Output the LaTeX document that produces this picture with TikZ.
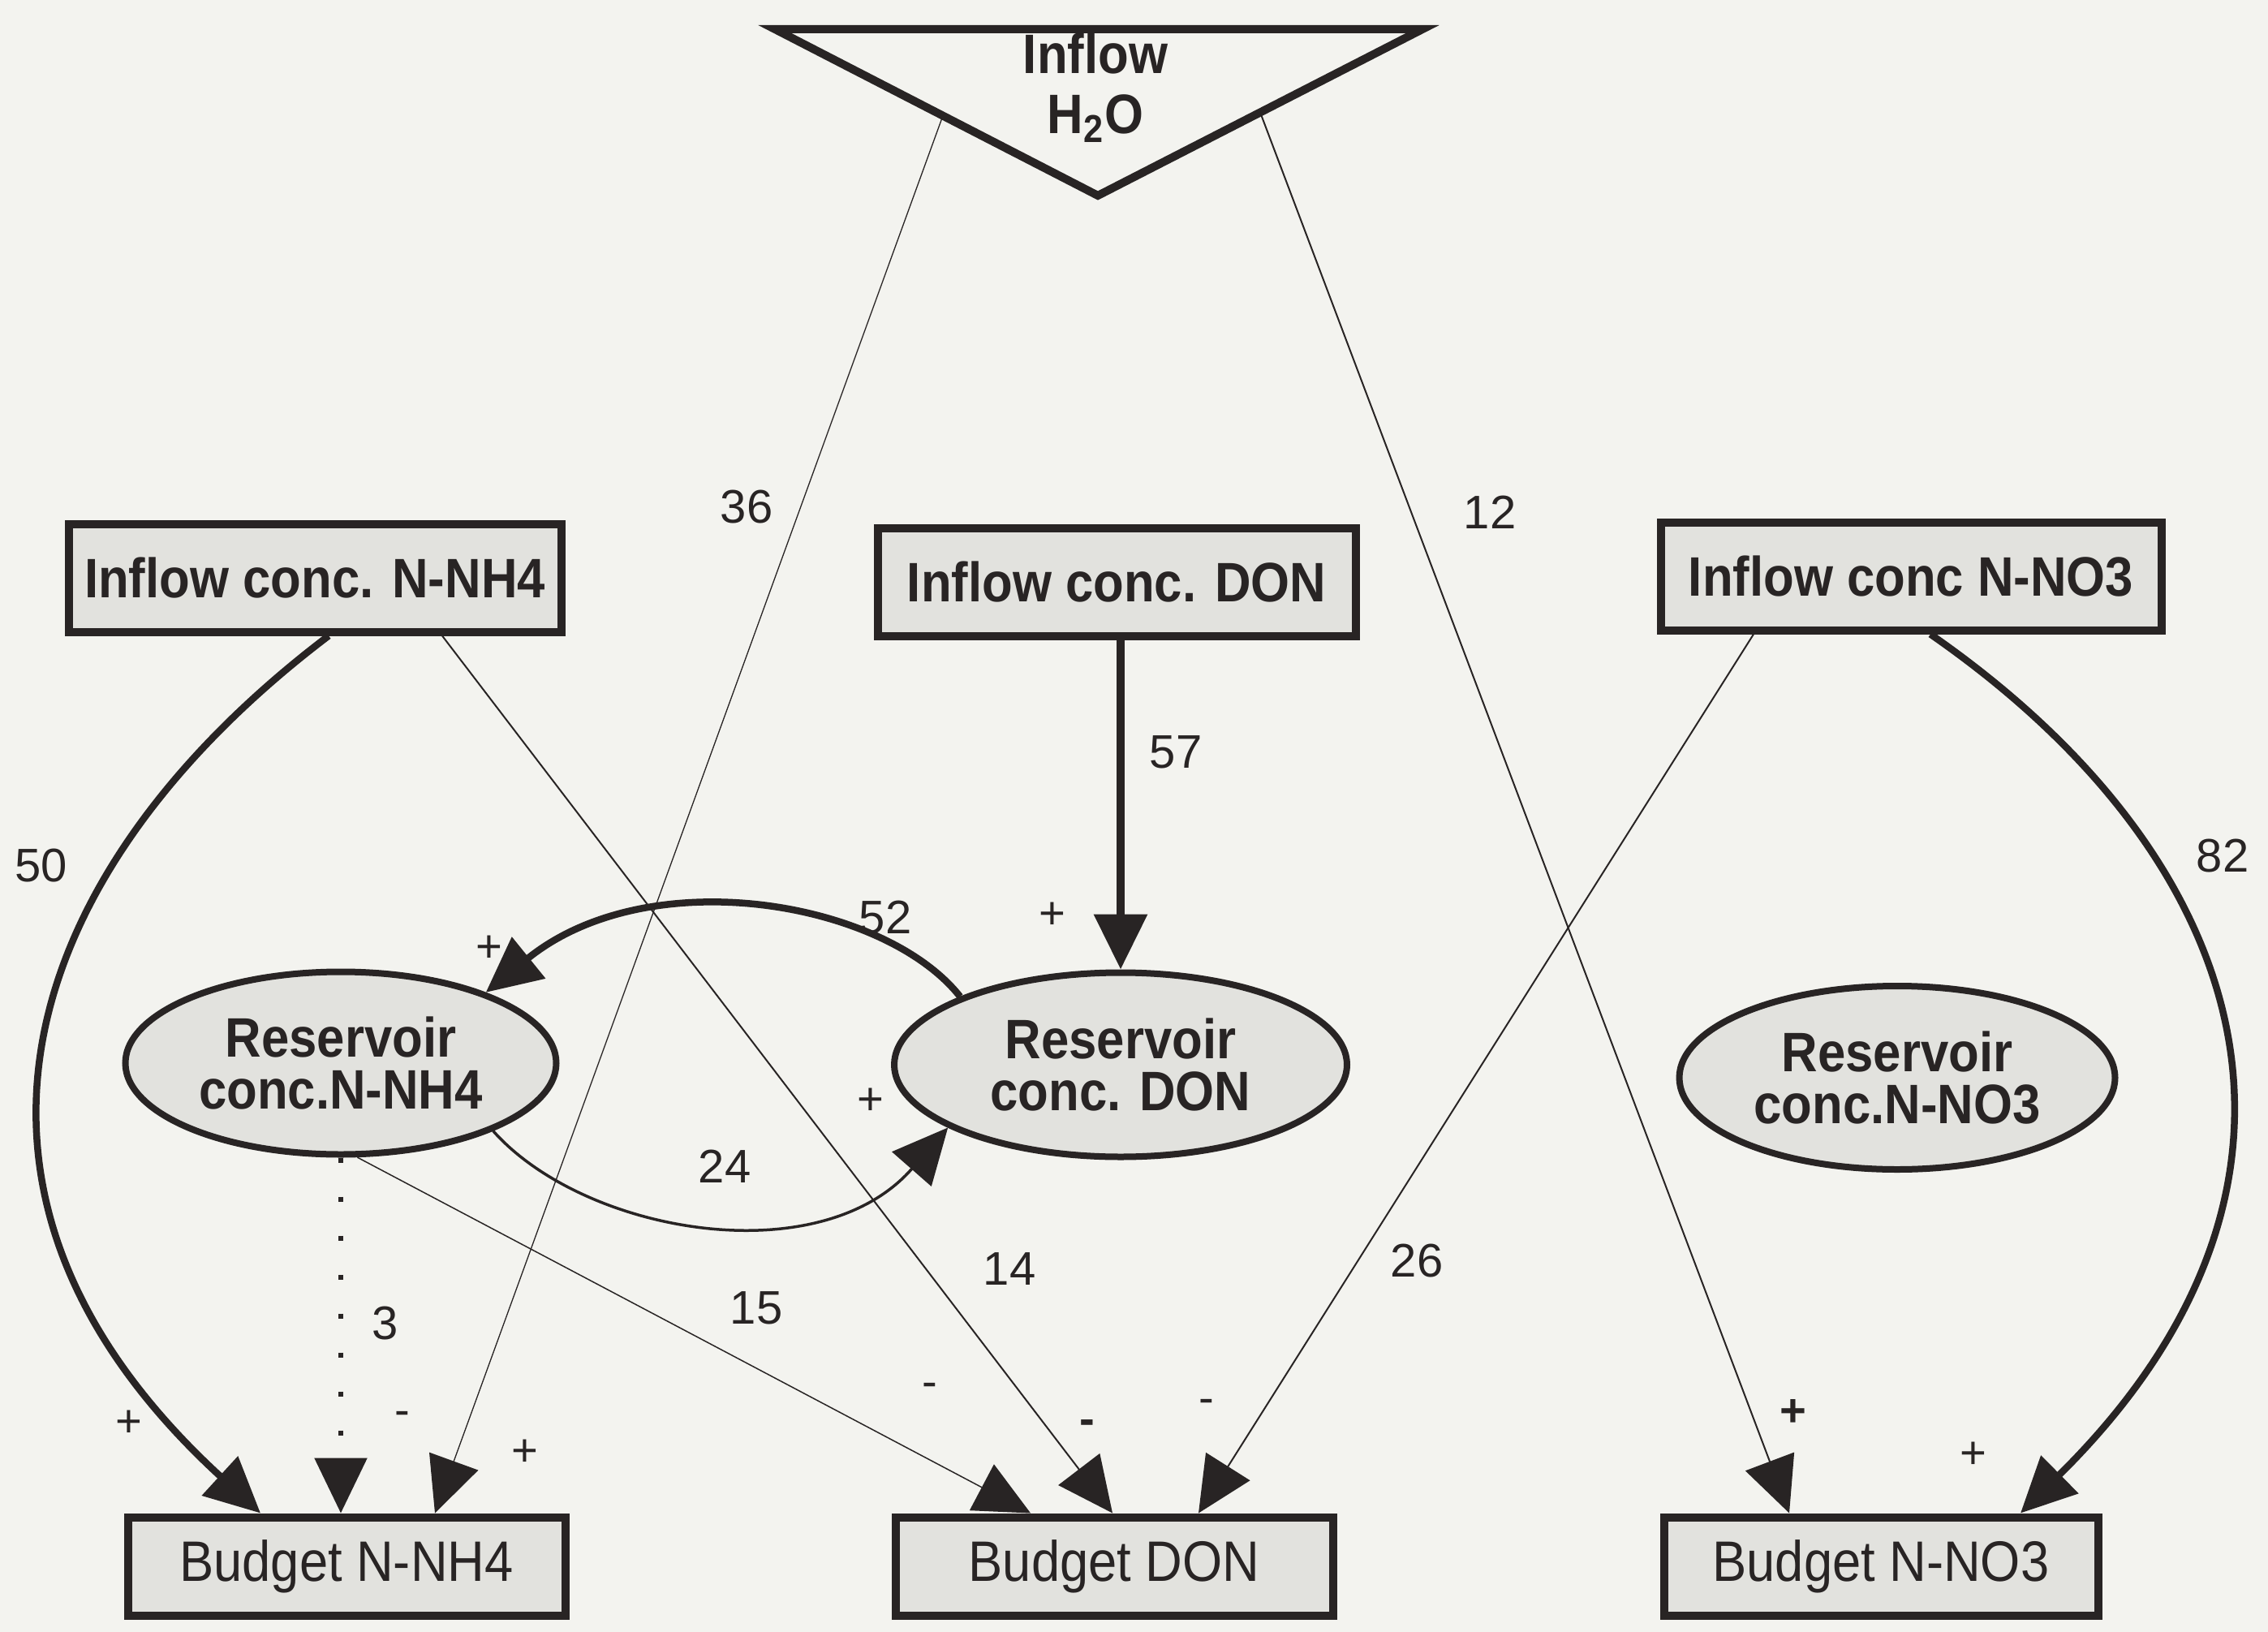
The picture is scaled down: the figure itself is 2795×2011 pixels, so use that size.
\documentclass[tikz,border=0pt]{standalone}
\usepackage{fontspec}
\setmainfont{Liberation Sans}
\newfontfamily\condfont{Liberation Sans}[FakeStretch=0.9]
\usetikzlibrary{arrows.meta,shapes.geometric,calc}
\definecolor{paper}{RGB}{243,243,239}
\definecolor{boxgray}{RGB}{226,226,222}
\definecolor{ink}{RGB}{40,36,36}

\begin{document}
\begin{tikzpicture}[x=0.1mm, y=-0.1mm,
    box/.style={rectangle, draw=ink, line width=1mm, fill=boxgray, inner sep=0pt, minimum height=1.33cm, text=ink, font=\condfont\bfseries\fontsize{19.5}{18}\selectfont},
    budget/.style={rectangle, draw=ink, line width=1mm, fill=boxgray, inner sep=0pt, minimum height=1.21cm, text=ink, font=\condfont\fontsize{20}{20}\selectfont},
    res/.style={ellipse, draw=ink, line width=0.8mm, fill=boxgray, inner sep=0pt, align=center, text=ink, font=\condfont\bfseries\fontsize{19.5}{18}\selectfont},
    lbl/.style={text=ink, inner sep=0pt, font=\fontsize{16.5}{18}\selectfont},
    sgn/.style={text=ink, inner sep=0pt, font=\fontsize{16}{18}\selectfont},
    flowthick/.style={draw=ink, line width=0.85mm, -{Triangle[length=6.8mm,width=6.4mm]}},
    flowmid/.style={draw=ink, line width=0.35mm, -{Triangle[length=6.8mm,width=6.4mm]}},
    flowthin/.style={draw=ink, line width=0.2mm, -{Triangle[length=6.8mm,width=6.4mm]}},
    flowdot/.style={draw=ink, line width=0.6mm, dash pattern=on 0.6mm off 4.2mm, -{Triangle[length=6.8mm,width=6.4mm]}},
]
    \fill[paper] (0,0) rectangle (2795,2011);
    \useasboundingbox (0,0) rectangle (2795,2011);

    % inflow of water
    \coordinate (t1) at (955,36);
    \coordinate (t2) at (1753,36);
    \coordinate (t3) at (1353,241);
    \draw[ink, line width=1mm, fill=paper, line join=miter] (t1) -- (t2) -- (t3) -- cycle;
    \node[text=ink, align=center, inner sep=0pt, font=\condfont\bfseries\fontsize{19.5}{21}\selectfont] (h2o) at (1350,108) {Inflow\\H\textsubscript{2}O};
    \coordinate (wl) at ($(t1)!0.52!(t3)$);
    \coordinate (wr) at ($(t2)!0.5!(t3)$);

    % inflow concentrations
    \node[box, minimum width=6.07cm] (inNH4) at (388,712) {Inflow conc. N-NH4};
    \node[box, minimum width=5.89cm] (inDON) at (1376,717) {Inflow conc. DON};
    \node[box, minimum width=6.17cm] (inNO3) at (2355,710) {Inflow conc N-NO3};

    % reservoirs
    \node[res, minimum width=5.31cm, minimum height=2.25cm] (resNH4) at (420,1310) {Reservoir\\conc.N-NH4};
    \node[res, minimum width=5.58cm, minimum height=2.27cm] (resDON) at (1381,1312) {Reservoir\\conc. DON};
    \node[res, minimum width=5.37cm, minimum height=2.26cm] (resNO3) at (2338,1328) {Reservoir\\conc.N-NO3};

    % budgets
    \node[budget, minimum width=5.39cm] (bNH4) at (427,1930) {Budget N-NH4};
    \node[budget, minimum width=5.39cm] (bDON) at (1373,1930) {Budget DON};
    \node[budget, minimum width=5.35cm] (bNO3) at (2318,1930) {Budget N-NO3};

    % connectors
    \draw[flowthin, line width=0.13mm] (wl) -- ([xshift=10.9mm]bNH4.north);
    \draw[flowthin] (wr) -- ([xshift=-11.3mm]bNO3.north);
    \draw[flowthick] ([xshift=1.7mm]inNH4.south) .. controls (40,1060) and (-120,1460) .. ([xshift=-10.6mm]bNH4.north);
    \draw[flowthin] ([xshift=15.7mm]inNH4.south) -- ([xshift=-0.2mm]bDON.north);
    \draw[flowthick, line width=1mm] (inDON.south -| resDON.north) -- (resDON.north);
    \draw[flowthin] ([xshift=-19.4mm]inNO3.south) -- ([xshift=10.4mm]bDON.north);
    \draw[flowthick] ([xshift=2.4mm]inNO3.south) .. controls (2780,1060) and (2900,1460) .. ([xshift=17.2mm]bNO3.north);
    \draw[flowthick] (resDON.157) .. controls (1090,1110) and (800,1060) .. (resNH4.26);
    \draw[flowmid] (resNH4.-24) .. controls (720,1520) and (1010,1570) .. (resDON.200);
    \draw[flowdot] (resNH4.south) -- (resNH4.south |- bNH4.north);
    \draw[flowthin, line width=0.15mm] (resNH4.-80) -- ([xshift=-10.3mm]bDON.north);

    % numbers
    \node[lbl] (n36) at (920,625) {36};
    \node[lbl] (n12) at (1836,631) {12};
    \node[lbl] (n57) at (1449,927) {57};
    \node[lbl] (n50) at (51,1067) {50};
    \node[lbl] (n82) at (2739,1055) {82};
    \node[lbl] (n52) at (1091,1131) {52};
    \node[lbl] (n24) at (893,1437) {24};
    \node[lbl] (n14) at (1244,1564) {14};
    \node[lbl] (n26) at (1746,1554) {26};
    \node[lbl] (n15) at (932,1612) {15};
    \node[lbl] (n3) at (475,1631) {3};

    % signs
    \node[sgn] (p57) at (1297,1128) {+};
    \node[sgn] (p52) at (603,1169) {+};
    \node[sgn] (p24) at (1073,1357) {+};
    \node[sgn] (p50) at (159,1754) {+};
    \node[sgn] (p36) at (647,1790) {+};
    \node[sgn] (p12) at (2210,1741) {\bfseries +};
    \node[sgn] (p82) at (2432,1793) {+};
    \node[sgn] (m3) at (496,1748) {-};
    \node[sgn] (m15) at (1146,1713) {-};
    \node[sgn] (m14) at (1340,1759) {\bfseries -};
    \node[sgn] (m26) at (1487,1733) {-};
\end{tikzpicture}
\end{document}
